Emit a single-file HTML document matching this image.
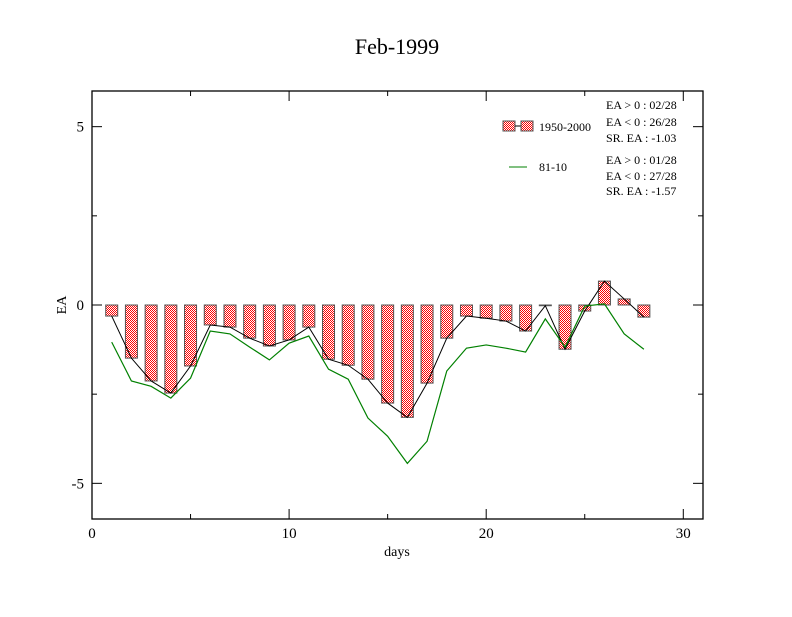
<!DOCTYPE html>
<html><head><meta charset="utf-8"><style>
body{margin:0;background:#fff;}
svg text{font-family:"Liberation Serif",serif;fill:#000;}
</style></head><body>
<svg id="chart" width="792" height="612" xmlns="http://www.w3.org/2000/svg">
<defs>
<pattern id="chk" width="2" height="2" patternUnits="userSpaceOnUse">
<rect width="2" height="2" fill="#fff"/><rect width="1" height="1" fill="#f00"/><rect x="1" y="1" width="1" height="1" fill="#f00"/>
</pattern>
</defs>
<text x="397" y="54" font-size="22" text-anchor="middle">Feb-1999</text>
<g id="grid"></g>
<g id="marks"></g>
<g>
<rect x="503" y="121" width="12" height="10" fill="url(#chk)" stroke="#555"/>
<line x1="515" y1="126" x2="521" y2="126" stroke="#000"/>
<rect x="521" y="121" width="12" height="10" fill="url(#chk)" stroke="#555"/>
<text x="539" y="131" font-size="12">1950-2000</text>
<line x1="509" y1="167" x2="527" y2="167" stroke="#008000"/>
<text x="539" y="171" font-size="12">81-10</text>
<text x="606" y="109" font-size="12">EA &gt; 0 : 02/28</text>
<text x="606" y="126" font-size="12">EA &lt; 0 : 26/28</text>
<text x="606" y="142" font-size="12">SR. EA : -1.03</text>
<text x="606" y="164" font-size="12">EA &gt; 0 : 01/28</text>
<text x="606" y="180" font-size="12">EA &lt; 0 : 27/28</text>
<text x="606" y="195" font-size="12">SR. EA : -1.57</text>
</g>
</svg>
<script>
const days=[1,2,3,4,5,6,7,8,9,10,11,12,13,14,15,16,17,18,19,20,21,22,23,24,25,26,27,28];
const ea1950=[-0.31,-1.49,-2.13,-2.47,-1.71,-0.56,-0.62,-0.93,-1.15,-0.98,-0.62,-1.52,-1.69,-2.08,-2.75,-3.15,-2.19,-0.93,-0.31,-0.37,-0.45,-0.73,-0.02,-1.24,-0.17,0.67,0.17,-0.34];
const ea8110=[-1.04,-2.13,-2.28,-2.61,-2.05,-0.73,-0.81,-1.18,-1.54,-1.07,-0.87,-1.8,-2.08,-3.17,-3.68,-4.44,-3.82,-1.85,-1.21,-1.12,-1.21,-1.32,-0.39,-1.18,-0.03,0.03,-0.81,-1.24];
const xTicks=[0,10,20,30];
const yTicks=[-5,0,5];
const NS="http://www.w3.org/2000/svg";
const L=92,R=703,T=91,B=519;
const X=v=>L+(v-0)/31*(R-L);
const Y=v=>T+(6-v)/12*(B-T);
function mk(tag,attrs,parent){const e=document.createElementNS(NS,tag);for(const k in attrs)e.setAttribute(k,attrs[k]);parent.appendChild(e);return e;}
const g=document.getElementById('grid'),m=document.getElementById('marks');
const frame=mk('rect',{x:L,y:T,width:R-L,height:B-T,fill:'none',stroke:'#000','stroke-width':1.3},g);


for(let v=0;v<=30;v+=5){const maj=v%10===0,len=maj?10:5;
 const a=mk('line',{x1:X(v),x2:X(v),y1:B,y2:B-len,stroke:'#000'},g);
 
 
 const b=mk('line',{x1:X(v),x2:X(v),y1:T,y2:T+len,stroke:'#000'},g);
 
 }
for(let v=-5;v<=5;v+=2.5){const maj=v%5===0,len=maj?10:5;
 const a=mk('line',{x1:L,x2:L+len,y1:Y(v),y2:Y(v),stroke:'#000'},g);
 
 
 const b=mk('line',{x1:R,x2:R-len,y1:Y(v),y2:Y(v),stroke:'#000'},g);
 
 }
xTicks.forEach(v=>{const t=mk('text',{x:X(v),y:B+19,'font-size':15,'text-anchor':'middle'},g);t.textContent=v;
 
 });
yTicks.forEach(v=>{const t=mk('text',{x:L-8,y:Y(v)+5,'font-size':15,'text-anchor':'end'},g);t.textContent=v;
 
 });
const xt=mk('text',{x:397,y:556,'font-size':14,'text-anchor':'middle'},g);xt.textContent='days';


const yt=mk('text',{x:0,y:0,'font-size':14,'text-anchor':'middle',transform:'translate(66,305) rotate(-90)'},g);yt.textContent='EA';


const bw=12;
days.forEach((d,i)=>{const v=ea1950[i];const y0=Y(0),y1=Y(v);
 const r=mk('rect',{x:X(d)-bw/2,y:Math.min(y0,y1),width:bw,height:Math.max(Math.abs(y1-y0),0.5),fill:'url(#chk)',stroke:'#555','stroke-width':1},m);
 
 });
const p1=mk('polyline',{points:days.map((d,i)=>X(d)+','+Y(ea1950[i])).join(' '),fill:'none',stroke:'#000','stroke-width':1},m);


const p2=mk('polyline',{points:days.map((d,i)=>X(d)+','+Y(ea8110[i])).join(' '),fill:'none',stroke:'#008000','stroke-width':1.2},m);


</script>
</body></html>
